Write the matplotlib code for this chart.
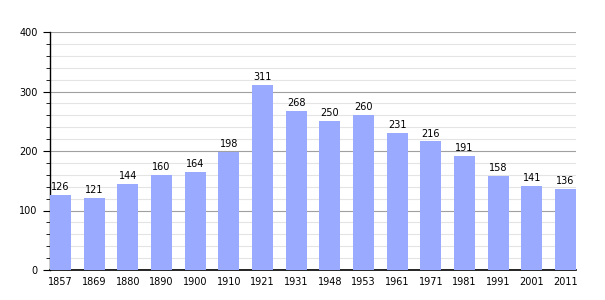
import numpy as np
import matplotlib.pyplot as plt
from matplotlib.ticker import MultipleLocator

years = ["1857", "1869", "1880", "1890", "1900", "1910", "1921", "1931",
         "1948", "1953", "1961", "1971", "1981", "1991", "2001", "2011"]
population = [126, 121, 144, 160, 164, 198, 311, 268,
              250, 260, 231, 216, 191, 158, 141, 136]

fig = plt.figure(figsize=(6.05, 3.0), dpi=100)
ax = fig.add_axes([50 / 605, 30 / 300, 526 / 605, 238 / 300])

x = np.arange(len(years))
ax.bar(x, population, width=0.62, color="#99aaff", zorder=3)
for xi, v in zip(x, population):
    ax.text(xi, v + 5, str(v), ha="center", va="bottom", fontsize=7, zorder=4)

ax.set_xlim(-0.31, len(years) - 1 + 0.31)
ax.set_ylim(0, 400)
ax.yaxis.set_major_locator(MultipleLocator(100))
ax.yaxis.set_minor_locator(MultipleLocator(20))
ax.grid(which="major", axis="y", color="#a0a0a0", linewidth=0.8, zorder=1)
ax.grid(which="minor", axis="y", color="#e4e4e4", linewidth=0.8, zorder=1)

ax.set_xticks(x)
ax.set_xticklabels(years, fontsize=7)
ax.tick_params(axis="x", length=0, pad=5)
ax.tick_params(axis="y", which="major", length=5, labelsize=7, pad=4)
ax.tick_params(axis="y", which="minor", length=3)

for s in ["top", "right"]:
    ax.spines[s].set_visible(False)
ax.spines["left"].set_linewidth(1)
ax.spines["bottom"].set_linewidth(1.2)

fig.savefig("out.png", dpi=100)
